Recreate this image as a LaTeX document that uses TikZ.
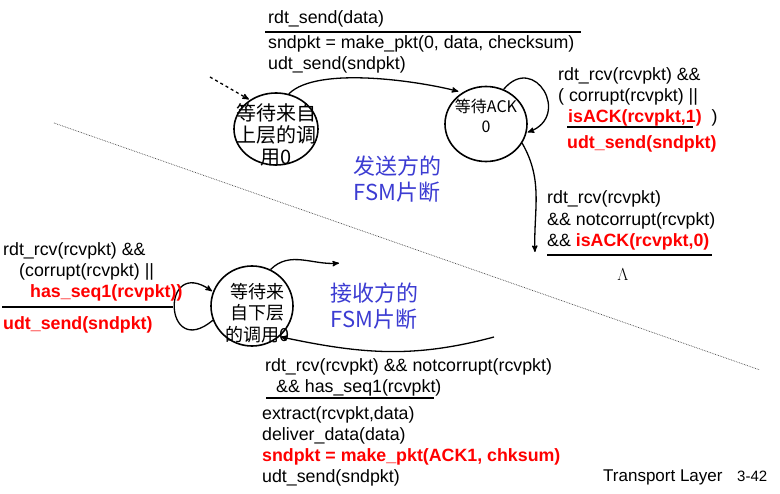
\documentclass[tikz,border=0pt]{standalone}
\usepackage{fontspec}
\setmainfont{Liberation Sans}
\newfontfamily\cjk{Noto Sans CJK SC}
\usetikzlibrary{arrows,shapes,calc}
\definecolor{fsmblue}{RGB}{60,60,210}
\newcommand{\hot}[1]{\textcolor{red}{\bfseries #1}}
\tikzset{
    >=stealth',
    shorten >=1pt,
    state/.style={draw=black,ellipse,line width=1.6pt,inner sep=0pt},
    stext/.style={font=\cjk\fontsize{20}{22}\selectfont,align=center,inner sep=0pt},
    txt/.style={anchor=base west,inner sep=0pt,align=left,font=\fontsize{17.8}{21}\selectfont},
    fsm/.style={font=\cjk\fontsize{22}{26}\selectfont,align=center,text=fsmblue,inner sep=0pt},
    rule/.style={line width=2pt},
    edge/.style={->,line width=1.3pt},
}

\begin{document}
\begin{tikzpicture}[x=1pt,y=1pt]
            \useasboundingbox (0,0) rectangle (780,-494);

            % states
            \node[state,minimum width=84pt,minimum height=72pt,
                label={[stext,yshift=-6pt]center:{等待来自\\上层的调\\用0}}] (S0) at (276,-129) {};
            \node[state,minimum width=82pt,minimum height=75pt,
                label={[stext,font=\cjk\fontsize{16}{20}\selectfont,yshift=8pt]center:{等待ACK\\0}}] (S1) at (486,-124) {};
            \node[state,minimum width=82pt,minimum height=80pt,
                label={[stext,font=\cjk\fontsize{18}{21.5}\selectfont,xshift=5pt,yshift=-7pt]center:{等待来\\自下层\\的调用0}}] (R0) at (252,-306) {};

            \node[fsm] (snd) at (397,-179) {发送方的\\FSM片断};
            \node[fsm] (rcv) at (374,-306) {接收方的\\FSM片断};

            \draw[densely dotted,black!75,line width=0.7pt] (54,-123) -- (760,-370);

            % sender transitions
            \coordinate (init) at (210,-77);
            \draw[edge,dashed] (init) -- (S0.132);
            \draw[edge,shorten >=4pt] (S0.70) to[out=45,in=165,looseness=0.6] (S1.127);
            \draw[edge] (S1.63) to[out=50,in=20,looseness=2.5] (S1.-12);
            \coordinate (down) at (535,-253);
            \draw[edge] (S1.-28) to[out=-60,in=92] (down);

            % receiver transitions
            \draw[edge] (R0.200) to[out=220,in=145,looseness=5.8] (R0.160);
            \coordinate (rt) at (340,-263);
            \draw[edge] (R0.63) to[out=45,in=185] (rt);
            \coordinate (rb) at (494,-337);
            \draw[edge] (rb) to[out=195,in=-12] (R0.-48);

            % labels (base = last line)
            \node[txt] (tc) at (268,-24) {rdt\_send(data)};
            \draw[rule] (265,-32) -- (582,-32);
            \node[txt] (ta) at (268,-69.5) {sndpkt = make\_pkt(0, data, checksum)\\udt\_send(sndpkt)};

            \node[txt] (rc) at (558,-123) {rdt\_rcv(rcvpkt) \&\&\\( corrupt(rcvpkt) ||\\\hspace*{10pt}\hot{isACK(rcvpkt,1)}\ \ )};
            \draw[rule] (567,-127) -- (694,-127);
            \node[txt] (ra) at (567,-149) {\hot{udt\_send(sndpkt)}};

            \node[txt,font=\fontsize{17.8}{21.5}\selectfont] (dc) at (547,-247) {rdt\_rcv(rcvpkt)\\\&\& notcorrupt(rcvpkt)\\\&\& \hot{isACK(rcvpkt,0)}};
            \draw[rule] (547,-255) -- (713,-255);
            \node (da) at (623,-275) {\fontsize{16}{18}\selectfont$\Lambda$};

            \node[txt] (lc) at (3,-298) {rdt\_rcv(rcvpkt) \&\&\\\hspace*{16pt}(corrupt(rcvpkt) ||\\\hspace*{27pt}\hot{has\_seq1(rcvpkt))}};
            \draw[rule] (2,-307) -- (174,-307);
            \node[txt] (la) at (3,-330) {\hot{udt\_send(sndpkt)}};

            \node[txt] (bc) at (265,-393) {rdt\_rcv(rcvpkt) \&\& notcorrupt(rcvpkt)\\\hspace*{11pt}\&\& has\_seq1(rcvpkt)};
            \draw[rule] (266,-398) -- (435,-398);
            \node[txt,font=\fontsize{17.8}{21.3}\selectfont] (ba) at (262,-483) {extract(rcvpkt,data)\\deliver\_data(data)\\\hot{sndpkt = make\_pkt(ACK1, chksum)}\\udt\_send(sndpkt)};

            \node[anchor=base west,inner sep=0pt,font=\fontsize{17}{20}\selectfont] (foot) at (603,-482) {Transport Layer};
            \node[anchor=base west,inner sep=0pt,font=\fontsize{15}{18}\selectfont] (page) at (737,-482) {3-42};
        \end{tikzpicture}
\end{document}
